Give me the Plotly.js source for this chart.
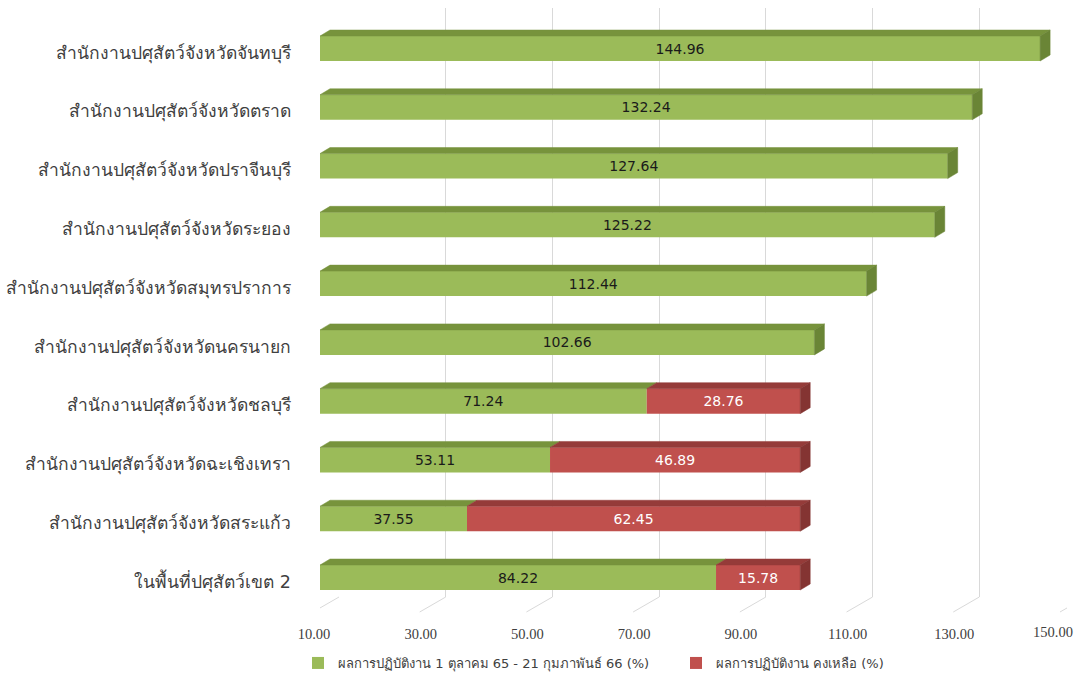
<!DOCTYPE html>
<html>
<head>
<meta charset="utf-8">
<script src="https://cdn.plot.ly/plotly-3.0.1.min.js"></script>
<style>html,body{margin:0;padding:0;background:#fff;}#chart{width:1076px;height:674px;}</style>
</head>
<body>
<div id="chart"></div>
<script>
// ---- data (bottom to top) ----
const categories = [
  "ในพื้นที่ปศุสัตว์เขต 2",
  "สำนักงานปศุสัตว์จังหวัดสระแก้ว",
  "สำนักงานปศุสัตว์จังหวัดฉะเชิงเทรา",
  "สำนักงานปศุสัตว์จังหวัดชลบุรี",
  "สำนักงานปศุสัตว์จังหวัดนครนายก",
  "สำนักงานปศุสัตว์จังหวัดสมุทรปราการ",
  "สำนักงานปศุสัตว์จังหวัดระยอง",
  "สำนักงานปศุสัตว์จังหวัดปราจีนบุรี",
  "สำนักงานปศุสัตว์จังหวัดตราด",
  "สำนักงานปศุสัตว์จังหวัดจันทบุรี"
];
const doneValues = [84.22, 37.55, 53.11, 71.24, 102.66, 112.44, 125.22, 127.64, 132.24, 144.96];
const remainValues = [15.78, 62.45, 46.89, 28.76, null, null, null, null, null, null];
const tickValues = [10, 30, 50, 70, 90, 110, 130, 150];
const tickLabels = ["10.00", "30.00", "50.00", "70.00", "90.00", "110.00", "130.00", "150.00"];
const seriesNames = ["ผลการปฏิบัติงาน 1 ตุลาคม 65 - 21 กุมภาพันธ์ 66 (%)", "ผลการปฏิบัติงาน คงเหลือ (%)"];

// ---- styling / geometry ----
const W = 1076, H = 674;
const axisMin = 10, axisMax = 150;
const plotLeft = 320, plotRight = 1067;
const pxPerUnit = (plotRight - plotLeft) / (axisMax - axisMin);
const gridShift = 19;      // back wall offset (px)
const floorFront = -7;     // floor front edge offset (px)
const yTopPx = 8, yBotPx = 619;
const gridBottomPx = 597, floorFrontPx = 612;
const plotH = yBotPx - yTopPx;
const rowTopPx = 48.5, rowBotPx = 577.5;
const yPxPerUnit = (rowBotPx - rowTopPx) / 9;
const yRange = [-(yBotPx - rowBotPx) / yPxPerUnit, 9 + (rowTopPx - yTopPx) / yPxPerUnit];
const half = 12.5 / yPxPerUnit;        // half bar height
const dX = 10 / pxPerUnit;             // 3D depth in x units
const dY = 6 / yPxPerUnit;             // 3D depth in y units

const green = "#9BBB59", greenTop = "#77933C", greenSide = "#6A8536";
const red = "#C0504D", redTop = "#953B39", redSide = "#843432";

const yPos = categories.map((c, i) => i);

function topFaces(starts, ends) {
  const xs = [], ys = [];
  starts.forEach((s, i) => {
    const e = ends[i];
    if (s == null || e == null) return;
    const y = yPos[i] + half;
    xs.push(s, s + dX, e + dX, e, s, null);
    ys.push(y, y + dY, y + dY, y, y, null);
  });
  return {xs, ys};
}
function sideFaces(ends) {
  const xs = [], ys = [];
  ends.forEach((e, i) => {
    if (e == null) return;
    const y = yPos[i];
    xs.push(e, e, e + dX, e + dX, e, null);
    ys.push(y - half, y + half, y + half + dY, y - half + dY, y - half, null);
  });
  return {xs, ys};
}

const greenStarts = doneValues.map(() => axisMin);
const greenEnds = doneValues.slice();
const redStarts = doneValues.map((d, i) => remainValues[i] == null ? null : d);
const redEnds = doneValues.map((d, i) => remainValues[i] == null ? null : d + remainValues[i]);
const greenSideEnds = doneValues.map((d, i) => remainValues[i] == null ? d : null);

const gTop = topFaces(greenStarts, greenEnds);
const rTop = topFaces(redStarts, redEnds);
const gSide = sideFaces(greenSideEnds);
const rSide = sideFaces(redEnds);

function face(f, color) {
  return {type: "scatter", mode: "lines", x: f.xs, y: f.ys, xaxis: "x2", yaxis: "y2",
    fill: "toself", fillcolor: color, line: {color: color, width: 0.5},
    hoverinfo: "skip", showlegend: false};
}

const traces = [
  {type: "scatter", mode: "markers", x: [axisMin], y: [0], xaxis: "x", yaxis: "y",
    marker: {opacity: 0}, hoverinfo: "skip", showlegend: false},
  {type: "bar", orientation: "h", name: seriesNames[0], y: yPos,
    x: doneValues.map(v => v - axisMin), base: doneValues.map(() => axisMin),
    text: doneValues.map(v => v.toFixed(2)), textposition: "inside", insidetextanchor: "middle",
    textangle: 0, textfont: {color: "#1a1a1a", size: 14, family: "DejaVu Sans, Verdana, sans-serif"},
    marker: {color: green, line: {width: 0}}, width: 2 * half, xaxis: "x2", yaxis: "y2",
    hoverinfo: "skip"},
  {type: "bar", orientation: "h", name: seriesNames[1], y: yPos,
    x: remainValues, base: doneValues,
    text: remainValues.map(v => v == null ? "" : v.toFixed(2)), textposition: "inside", insidetextanchor: "middle",
    textangle: 0, textfont: {color: "#ffffff", size: 14, family: "DejaVu Sans, Verdana, sans-serif"},
    marker: {color: red, line: {width: 0}}, width: 2 * half, xaxis: "x2", yaxis: "y2",
    hoverinfo: "skip"},
  face(gTop, greenTop),
  face(rTop, redTop),
  face(gSide, greenSide),
  face(rSide, redSide)
];

// floor diagonal lines (from back wall down to floor front edge)
const floorShapes = tickValues.map(v => ({
  type: "line", xref: "x2", yref: "paper",
  x0: v + gridShift / pxPerUnit, x1: v + floorFront / pxPerUnit,
  y0: (yBotPx - gridBottomPx) / plotH, y1: (yBotPx - floorFrontPx) / plotH,
  line: {color: "#d9d9d9", width: 1}
}));

const gridRangeMax = axisMin + (W - plotLeft - gridShift) / pxPerUnit;
const nInner = tickValues.length - 1;

const layout = {
  width: W, height: H,
  margin: {l: 0, r: 0, t: yTopPx, b: H - yBotPx, autoexpand: false},
  paper_bgcolor: "#ffffff", plot_bgcolor: "rgba(0,0,0,0)",
  barmode: "overlay",
  showlegend: true,
  font: {family: "Tahoma, 'DejaVu Sans', sans-serif", color: "#404040"},
  xaxis: {domain: [(plotLeft + gridShift) / W, 1], range: [axisMin, gridRangeMax],
    anchor: "y", showgrid: true, gridcolor: "#d9d9d9", gridwidth: 1,
    tickvals: tickValues.slice(0, nInner), showticklabels: false, zeroline: false, showline: false, ticks: "",
    fixedrange: true},
  yaxis: {domain: [(yBotPx - gridBottomPx) / plotH, 1], range: [0, 1], anchor: "x",
    visible: false, fixedrange: true},
  xaxis2: {domain: [plotLeft / W, plotRight / W], range: [axisMin, axisMax], anchor: "y2",
    showgrid: false, zeroline: false, showline: false,
    tickvals: tickValues.slice(0, nInner), ticktext: tickLabels.slice(0, nInner), ticklabeloverflow: "allow",
    ticks: "", ticklabelshift: -6, ticklabelstandoff: 4,
    tickfont: {size: 14.5, color: "#404040", family: "'Liberation Serif', serif"},
    fixedrange: true},
  yaxis2: {domain: [0, 1], range: yRange, anchor: "x2",
    tickvals: yPos, ticktext: categories, ticks: "", ticklabelstandoff: 28, ticklabelshift: 4,
    showgrid: false, zeroline: false, showline: false,
    tickfont: {size: 17.5, color: "#404040", family: "Tahoma, 'DejaVu Sans', sans-serif"},
    fixedrange: true},
  shapes: floorShapes,
  annotations: [{
    text: tickLabels[nInner], xref: "paper", yref: "paper", x: 1, xanchor: "right",
    y: -(632 - yBotPx) / plotH, yanchor: "middle", showarrow: false, xshift: -1,
    font: {size: 14.5, color: "#404040", family: "'Liberation Serif', serif"}
  }],
  legend: {orientation: "h", x: 298 / W, xanchor: "left", y: -(663 - yBotPx) / plotH, yanchor: "middle",
    font: {size: 13, color: "#404040"}, entrywidth: 333, entrywidthmode: "pixels",
    itemwidth: 30, traceorder: "normal", bgcolor: "rgba(0,0,0,0)"}
};

Plotly.newPlot("chart", traces, layout, {displayModeBar: false, staticPlot: true});
</script>
</body>
</html>
